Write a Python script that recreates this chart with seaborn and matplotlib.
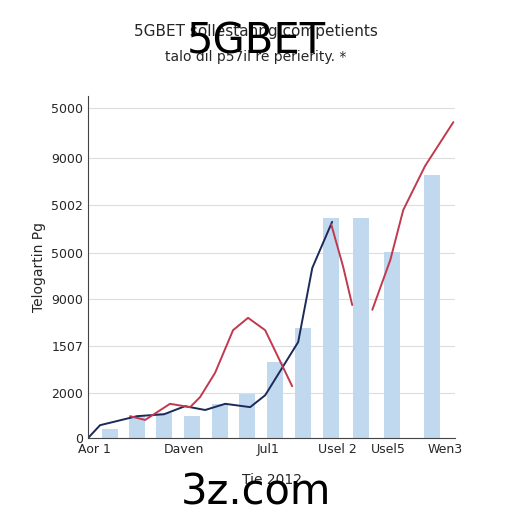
import matplotlib
matplotlib.use("Agg")
import matplotlib.pyplot as plt
import numpy as np
import pandas as pd
import seaborn as sns

# bar data (x position in month units, height)
bar_x = [0.73, 1.63, 2.53, 3.47, 4.4, 5.3, 6.23, 7.17, 8.1, 9.1, 10.13, 11.47]
bar_h = [0.2, 0.46, 0.52, 0.46, 0.72, 0.93, 1.6, 2.32, 4.63, 4.63, 3.92, 5.54]

dark_x = [0, 0.4, 1.63, 2.53, 3.23, 3.9, 4.57, 5.4, 5.9, 7.0, 7.47, 8.13]
dark_y = [0, 0.27, 0.46, 0.5, 0.67, 0.59, 0.72, 0.65, 0.9, 2.02, 3.58, 4.55]

red1_x = [1.4, 1.9, 2.73, 3.4, 3.73, 4.23, 4.83, 5.33, 5.9, 6.8]
red1_y = [0.46, 0.38, 0.72, 0.65, 0.86, 1.37, 2.27, 2.53, 2.27, 1.09]

red2_x = [8.1, 8.5, 8.8]
red2_y = [4.5, 3.6, 2.8]

red3_x = [9.47, 10.07, 10.5, 11.23, 12.17]
red3_y = [2.7, 3.75, 4.8, 5.73, 6.65]

ytick_pos = [0, 0.95, 1.93, 2.93, 3.9, 4.9, 5.9, 6.95]
ytick_lab = ["0", "2000", "1507", "9000", "5000", "5002", "9000", "5000"]
xtick_pos = [0.2, 3.2, 6.0, 8.3, 10.0, 11.9]
xtick_lab = ["Aor 1", "Daven", "Jul1", "Usel 2", "Usel5", "Wen3"]

sns.set_style("white")
fig = plt.figure(figsize=(5.12, 5.12), dpi=100)
ax = fig.add_axes([0.172, 0.1445, 0.717, 0.668])

bars = pd.DataFrame({"x": bar_x, "h": bar_h})
sns.barplot(data=bars, x="x", y="h", native_scale=True, width=0.6,
            color="#b9d9f7", edgecolor="none", ax=ax)
sns.lineplot(x=dark_x, y=dark_y, color="#1c2a5a", lw=1.4, ax=ax, sort=False)
for xs, ys in [(red1_x, red1_y), (red2_x, red2_y), (red3_x, red3_y)]:
    sns.lineplot(x=xs, y=ys, color="#c0394f", lw=1.4, ax=ax, sort=False)

ax.set_xlim(0, 12.23)
ax.set_ylim(0, 7.2)
ax.set_yticks(ytick_pos)
ax.set_yticklabels(ytick_lab, fontsize=9)
ax.set_xticks(xtick_pos)
ax.set_xticklabels(xtick_lab, fontsize=9)
ax.tick_params(length=0)
ax.yaxis.grid(True, color="#dddddd", lw=0.8)
for s in ["top", "right"]:
    ax.spines[s].set_visible(False)
ax.spines["left"].set_color("#444444")
ax.spines["bottom"].set_color("#444444")
ax.set_xlabel("Tie 2012", fontsize=10, labelpad=12)
ax.set_ylabel("Telogartin Pg", fontsize=10)

fig.text(0.5, 0.93, "5GBET sollestanng competients", ha="center", fontsize=11)
fig.text(0.5, 0.88, "talo dil p57il re perierity. *", ha="center", fontsize=10)
fig.text(0.5, 0.895, "5GBET", ha="center", fontsize=30, color="black")
fig.text(0.5, 0.015, "3z.com", ha="center", fontsize=30, color="black")

fig.savefig("out.png", dpi=100)
